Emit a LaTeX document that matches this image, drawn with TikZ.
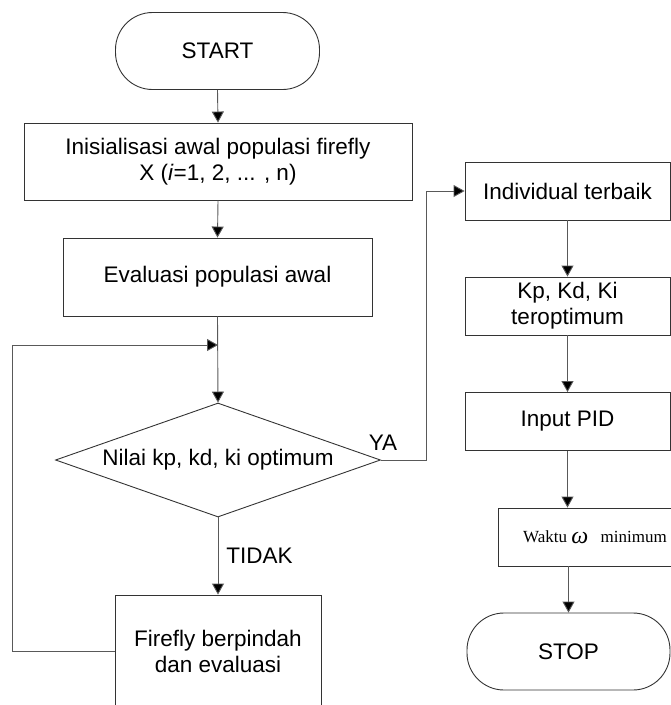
\documentclass[tikz,border=0pt]{standalone}
\usepackage{fontspec}
\setmainfont{Liberation Sans}
\newfontfamily\serifx{Liberation Serif}
\usetikzlibrary{arrows.meta,shapes.geometric}
\begin{document}
\begin{tikzpicture}[x=1pt,y=-1pt,
  base/.style={draw=black!80,line width=0.9pt,inner sep=0pt,align=center,font=\fontsize{22.5}{26}\selectfont},
  procbox/.style={base,rectangle},
  term/.style={base,rectangle,rounded corners=37pt,minimum width=204pt,minimum height=77pt},
  decis/.style={base,diamond,aspect=2.85,minimum width=325pt,minimum height=114pt},
  conn/.style={draw=black!65,line width=0.9pt},
  arr/.style={conn,-{Triangle[length=11pt,width=12pt,fill=black]}},
  lbl/.style={font=\fontsize{22.5}{26}\selectfont,inner sep=0pt}
]
\useasboundingbox (0,0) rectangle (671,705);
\clip (0,0) rectangle (671,705);

% left column
\node[term] (start) at (217.5,51) {START};
\node[procbox,minimum width=388pt,minimum height=77pt] (init) at (218,161.5)
  {Inisialisasi awal populasi firefly\\X (\textit{i}=1, 2, ... , n)};
\node[procbox,minimum width=309pt,minimum height=78pt] (eval) at (217.5,277) {Evaluasi populasi awal};
\coordinate (lj) at (218,345);
\coordinate (lc) at (12,345);
\node[decis] (dia) at (218,460) {Nilai kp, kd, ki optimum};
\node[procbox,minimum width=206pt,minimum height=112pt] (ff) at (218,651)
  {Firefly berpindah\\dan evaluasi};

% right column
\node[procbox,minimum width=205pt,minimum height=58pt] (ind) at (567.5,191) {Individual terbaik};
\node[procbox,minimum width=205pt,minimum height=58pt] (kp) at (567.5,306) {Kp, Kd, Ki\\teroptimum};
\node[procbox,minimum width=205pt,minimum height=58pt] (pid) at (567.5,421.5) {Input PID};
\node[procbox,minimum width=194pt,minimum height=58pt,font=\serifx\fontsize{17}{20}\selectfont] (wak) at (595,537)
  {Waktu \raisebox{-1pt}{\fontsize{24}{24}\selectfont\textit{ω}}\hspace{8pt} minimum};
\node[term,minimum width=203pt] (stop) at (568.5,651.5) {STOP};
\coordinate (yc) at (426,460);

% connectors
\draw[arr] (start.south) -- (init.north);
\draw[arr] (init.south) -- (eval.north);
\draw[arr] (eval.south) -- (dia.north);
\draw[arr] (ff.west) -| (lc) -- (lj);
\draw[arr] (dia.south) -- node[lbl,right=8pt,pos=0.5]{TIDAK} (ff.north);
\draw[arr] (dia.east) -- (yc) |- (ind.west);
\node[lbl] (ya) at (383,443) {YA};
\draw[arr] (ind.south) -- (kp.north);
\draw[arr] (kp.south) -- (pid.north);
\draw[arr] (pid.south) -- (pid.south |- wak.north);
\draw[arr] (stop.north |- wak.south) -- (stop.north);
\end{tikzpicture}
\end{document}
